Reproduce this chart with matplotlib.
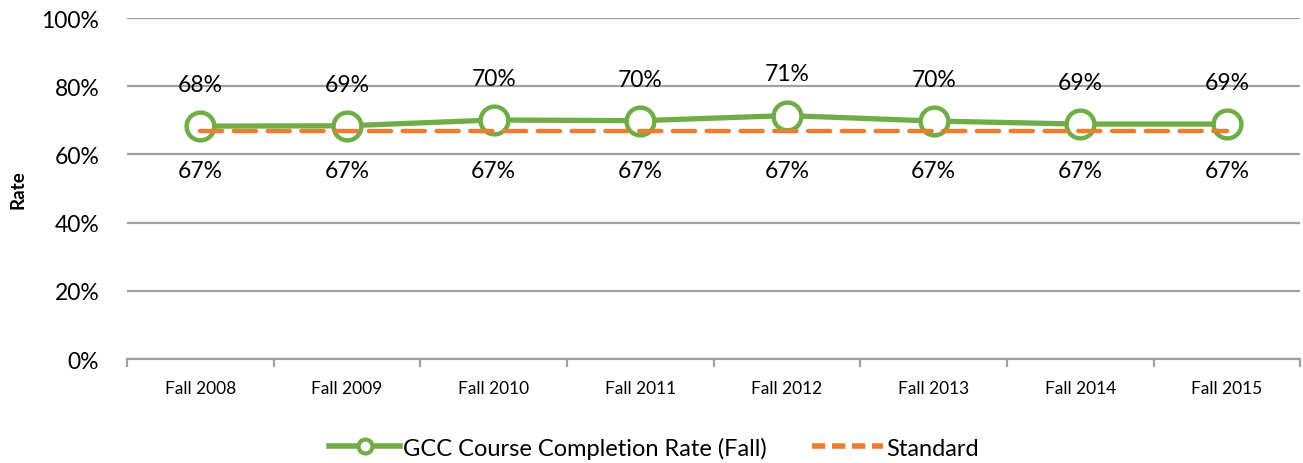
import numpy as np
import matplotlib.pyplot as plt
from matplotlib.lines import Line2D

plt.rcParams['font.family'] = ['Lato', 'DejaVu Sans']

terms = ['Fall 2008', 'Fall 2009', 'Fall 2010', 'Fall 2011',
         'Fall 2012', 'Fall 2013', 'Fall 2014', 'Fall 2015']
gcc_rate = [68.3, 68.4, 70.1, 69.9, 71.4, 69.8, 68.9, 68.9]
gcc_labels = ['68%', '69%', '70%', '70%', '71%', '70%', '69%', '69%']
standard = [67, 67, 67, 67, 67, 67, 67, 67]
standard_labels = ['67%'] * 8

green = '#70ad47'
orange = '#ed7d31'
grid_gray = '#a0a0a0'

fig = plt.figure(figsize=(13.03, 4.64), dpi=100)
ax = fig.add_axes([0.0975, 0.224, 0.9005, 0.735])

x = np.arange(len(terms))
ax.plot(x, gcc_rate, color=green, lw=3.8, marker='o', ms=20,
        mfc='white', mec=green, mew=3.2, zorder=3)
ax.plot(x, standard, color=orange, lw=3.2, ls=(0, (5, 2.6)),
        dash_capstyle='round', zorder=4)

for xi, v, lab in zip(x, gcc_rate, gcc_labels):
    ax.annotate(lab, (xi, v), xytext=(0, 30), textcoords='offset points',
                ha='center', va='center', fontsize=16.5)
for xi, v, lab in zip(x, standard, standard_labels):
    ax.annotate(lab, (xi, v), xytext=(0, -29), textcoords='offset points',
                ha='center', va='center', fontsize=16.5)

ax.set_xlim(-0.5, len(terms) - 0.5)
ax.set_ylim(0, 100)
ax.set_yticks(range(0, 101, 20))
ax.set_yticklabels([f'{t}%' for t in range(0, 101, 20)], fontsize=16.5)
ax.yaxis.grid(True, color=grid_gray, lw=1.6)
ax.set_axisbelow(True)
ax.tick_params(axis='y', length=0, pad=20)

ax.set_xticks(x)
ax.set_xticklabels(terms, fontsize=12.5)
ax.set_xticks(np.arange(-0.5, len(terms)), minor=True)
ax.tick_params(axis='x', which='major', length=0, pad=15)
ax.tick_params(axis='x', which='minor', length=6, width=1.6, color=grid_gray)

for s in ['top', 'right', 'left']:
    ax.spines[s].set_visible(False)
ax.spines['bottom'].set_color(grid_gray)
ax.spines['bottom'].set_linewidth(1.6)

fig.text(0.014, 0.591, 'Rate', rotation=90, ha='center', va='center',
         fontsize=13.5, fontweight='bold')

handles = [
    Line2D([], [], color=green, lw=4, marker='o', ms=10, mfc='white',
           mec=green, mew=3),
    Line2D([], [], color=orange, lw=4, ls=(0, (2.4, 1.2))),
]
fig.legend(handles, ['GCC Course Completion Rate (Fall)', 'Standard'],
           loc='center', bbox_to_anchor=(0.502, 0.033), ncol=2, frameon=False,
           fontsize=17, handlelength=3.0, handletextpad=0.15,
           columnspacing=1.9)

fig.savefig('out.png', dpi=100)
